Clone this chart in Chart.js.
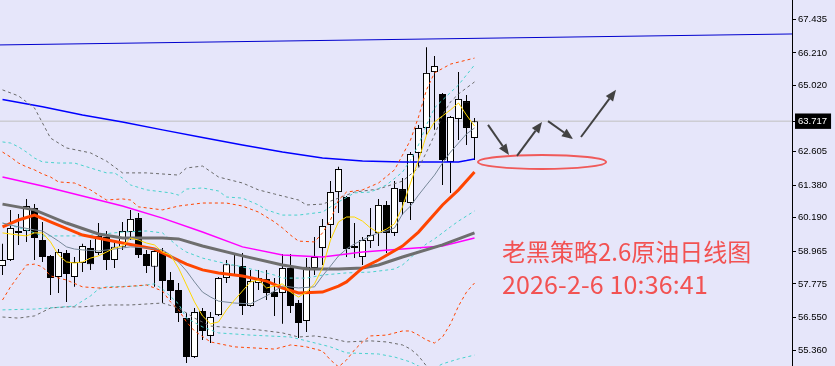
<!DOCTYPE html>
<html><head><meta charset="utf-8">
<script src="https://cdn.jsdelivr.net/npm/chart.js@4.4.1/dist/chart.umd.min.js"></script>
<style>
html,body{margin:0;padding:0;background:#e6e6fa;}
#wrap{position:relative;width:835px;height:366px;overflow:hidden;background:#e6e6fa;}
canvas{display:block;}
.note{position:absolute;left:502px;color:#f25252;font-family:"Noto Sans CJK SC","Noto Sans",sans-serif;font-size:24px;line-height:24px;white-space:nowrap;}
</style></head><body>
<div id="wrap"><canvas id="c" width="835" height="366"></canvas>
<div class="note" style="top:239px">老黑策略2.6原油日线图</div>
<div class="note" style="top:271px;font-size:25px;line-height:25px;letter-spacing:0.15px">2026-2-6 10:36:41</div>
</div>
<script>
// ---- candles (daily crude oil), index 0..59 ----
const OPEN  = [58.43,58.65,59.64,59.71,60.55,59.38,58.80,58.03,58.91,58.03,
               58.54,59.09,58.91,59.49,58.65,59.13,59.67,60.18,58.87,58.40,
               58.94,57.92,57.56,56.53,55.11,56.79,55.88,56.64,57.99,58.45,
               58.43,56.97,57.81,57.96,57.48,57.45,58.36,57.08,56.42,58.36,
               59.09,59.93,61.13,60.95,59.16,58.76,59.34,59.64,60.66,59.64,
               61.24,60.73,62.56,63.47,65.51,64.71,62.23,63.80,64.45,63.10];
const HIGH  = [59.24,60.48,60.33,60.88,60.69,60.04,58.83,59.05,59.02,58.76,
               59.24,59.38,60.00,59.71,59.38,60.04,60.48,60.37,59.02,59.09,
               59.09,58.21,57.81,56.72,56.90,56.90,56.75,58.03,58.65,58.83,
               58.91,58.29,58.29,58.29,57.99,58.87,58.87,57.19,58.72,59.49,
               60.15,61.53,62.05,60.99,60.00,59.49,60.55,60.88,60.80,61.53,
               61.64,62.59,63.58,66.42,66.10,64.75,63.91,65.51,64.67,63.83];
const LOW   = [58.10,58.61,59.20,59.31,58.65,58.58,57.37,57.45,57.12,57.67,
               58.21,58.29,58.83,58.29,58.36,59.02,59.38,58.72,58.18,57.67,
               57.08,57.19,56.39,54.89,55.07,55.73,55.62,56.61,57.81,58.07,
               56.64,56.94,57.56,57.19,56.61,56.32,56.72,55.80,56.02,58.10,
               58.47,59.45,60.37,58.76,58.72,58.47,59.09,59.16,58.91,59.53,
               60.29,60.11,62.05,63.21,63.40,61.39,61.10,63.03,62.85,62.30];
const CLOSE = [58.65,59.82,59.71,60.62,59.45,58.76,57.99,58.94,58.14,58.58,
               59.16,58.50,59.53,58.65,59.13,59.71,60.15,58.83,58.43,58.98,
               57.88,57.52,56.72,55.11,56.75,56.06,56.57,57.99,58.50,58.43,
               56.97,57.88,57.99,57.45,57.30,58.36,56.97,56.35,58.40,58.76,
               59.89,61.13,61.97,59.05,59.09,59.38,59.56,60.66,59.64,61.28,
               60.77,62.52,63.47,65.48,65.73,62.30,63.87,64.53,63.47,63.717];

const CURRENT_PRICE = 63.717;
const Y_TICKS = [67.435,66.210,65.020,63.717,62.605,61.380,60.190,58.965,57.775,56.550,55.360];

// ---- indicator lines: [candle index, price] ----
const MA5_YELLOW = [59.64,59.60,59.56,59.53,59.64,59.64,59.31,58.83,58.58,58.54,
                    58.58,58.72,58.80,58.94,59.09,59.16,59.45,59.38,59.27,59.20,
                    58.94,58.83,58.36,57.74,57.12,56.61,56.32,56.39,56.83,57.19,
                    57.52,57.85,57.92,57.63,57.70,57.78,57.48,57.30,57.48,57.78,
                    58.36,59.38,60.04,60.22,60.22,60.07,59.82,59.64,59.78,59.97,
                    60.59,61.46,62.30,63.21,63.69,63.91,64.13,64.38,63.94,63.54];
const MA10_SLATE = [[0,60.00],[2,59.86],[4,59.75],[5,59.71],[6,59.53],[7,59.34],[8,59.13],[9,59.05],[10,59.02],[12,58.98],[14,59.05],[16,59.13],[18,59.09],[20,59.02],[21,58.83],[22,58.58],[23,58.25],[24,57.85],[25,57.48],[26,57.30],[27,57.15],[29,57.08],[31,57.05],[32,57.19],[33,57.34],[34,57.52],[35,57.70],[37,57.63],[39,57.67],[40,58.07],[41,58.43],[42,58.80],[43,59.05],[44,59.24],[45,59.38],[46,59.53],[47,59.64],[48,59.71],[49,59.82],[50,60.33],[51,60.62],[52,61.02],[53,61.39],[54,61.75],[55,62.19],[56,62.59],[57,62.92],[58,63.25],[59,63.47]];
const MA_ORANGE  = [[0,59.86],[2,60.11],[4,60.29],[6,60.04],[10,59.56],[15,59.27],[19,59.05],[23,58.50],[25,58.29],[27,58.18],[30,58.07],[33,57.88],[35,57.63],[37,57.45],[40,57.48],[42,57.70],[43,57.85],[45,58.36],[47,58.65],[50,59.16],[52,59.67],[55,60.66],[57,61.21],[59,61.86]];
const MA_GRAY    = [[0,60.69],[4,60.48],[8,60.00],[12,59.60],[15,59.45],[20,59.45],[22,59.42],[25,59.16],[30,58.80],[35,58.47],[38,58.32],[42,58.32],[45,58.36],[47,58.47],[50,58.76],[55,59.20],[59,59.64]];
const MA_MAGENTA = [[0,61.68],[5,61.35],[10,60.99],[15,60.62],[20,60.18],[25,59.67],[30,59.13],[35,58.83],[40,58.76],[45,58.94],[50,59.05],[55,59.16],[57,59.31],[59,59.45]];
const MA_BLUE    = [[0,64.51],[5,64.24],[10,63.94],[15,63.69],[20,63.40],[25,63.12],[30,62.85],[35,62.59],[40,62.37],[45,62.26],[50,62.23],[55,62.23],[57,62.23],[58,62.28],[59,62.34]];
const MID_CYAN   = [[0,60.00],[3,59.75],[5,59.53],[10,59.53],[15,59.67],[18,59.71],[20,59.64],[21,59.38],[22,59.13],[23,58.94],[25,58.72],[27,58.58],[30,58.40],[32,58.25],[34,58.10],[35,57.99],[38,57.99],[40,58.10],[43,58.18],[46,58.21],[49,58.32],[50,58.47],[51,58.72],[52,59.02],[53,59.24],[54,59.42],[55,59.64],[56,59.86],[57,60.07],[59,60.44]];
const UP_ORANGE  = [[0,62.59],[1,62.41],[2,62.19],[3,62.05],[4,61.94],[5,61.79],[6,61.68],[7,61.50],[9,61.46],[11,61.21],[12,61.02],[13,60.84],[15,60.88],[16,60.84],[17,60.59],[20,60.48],[22,60.62],[25,60.73],[28,60.73],[30,60.62],[32,60.40],[34,60.04],[35,59.82],[36,59.56],[37,59.34],[39,59.31],[40,59.64],[41,60.11],[42,60.84],[43,61.13],[45,61.21],[47,61.46],[49,61.94],[50,62.48],[51,63.03],[52,63.87],[53,64.86],[54,65.48],[56,65.80],[59,66.02]];
const LO_ORANGE  = [[0,57.19],[1,57.67],[2,58.07],[3,58.47],[4,58.50],[5,58.40],[6,58.07],[8,57.92],[10,57.67],[12,57.63],[15,57.67],[18,57.74],[20,57.52],[21,57.12],[22,56.83],[23,56.39],[24,56.06],[26,55.66],[29,55.48],[34,55.40],[36,55.55],[38,55.48],[40,55.33],[41,55.00],[42,54.75],[43,55.00],[44,55.37],[45,55.66],[46,55.88],[48,55.91],[50,56.06],[51,56.06],[52,55.91],[53,55.73],[54,55.62],[55,55.84],[56,56.32],[57,56.97],[58,57.48],[59,57.81]];
const UP_CYAN    = [[0,62.96],[1,62.92],[2,62.78],[3,62.59],[4,62.37],[5,62.23],[7,62.19],[9,62.19],[11,62.01],[13,61.83],[14,61.83],[15,61.64],[16,61.39],[18,61.21],[21,61.10],[22,61.02],[23,61.24],[25,61.28],[27,61.17],[28,60.95],[30,60.91],[32,60.66],[33,60.48],[35,60.29],[37,60.29],[40,60.40],[41,60.59],[42,60.77],[44,61.10],[46,61.13],[48,61.39],[50,61.86],[51,62.30],[52,62.85],[53,63.58],[54,64.20],[55,64.49],[57,65.04],[59,65.77]];
const LO_CYAN    = [[0,56.83],[4,56.86],[9,56.97],[11,57.34],[12,57.59],[13,57.67],[17,57.70],[19,57.78],[20,57.59],[22,57.05],[23,56.53],[25,56.21],[27,55.99],[31,55.91],[36,55.84],[38,55.70],[41,55.48],[43,55.26],[47,55.22],[49,55.11],[51,54.93],[52,54.78],[53,54.67],[54,54.71],[55,54.86],[57,55.04],[59,55.18]];
const UP_GRAY    = [[0,64.86],[2,64.64],[4,64.20],[5,63.65],[6,63.10],[8,62.74],[11,62.56],[13,62.26],[15,61.83],[18,61.83],[22,61.75],[23,62.01],[25,62.08],[27,61.68],[30,61.46],[32,61.21],[34,61.06],[37,60.84],[38,60.66],[40,60.69],[42,60.91],[44,61.13],[47,61.24],[50,61.53],[52,62.01],[53,62.59],[54,63.21],[55,63.94],[56,64.42],[57,64.71],[58,64.93],[59,65.15]];
const LO_GRAY    = [[0,56.57],[2,56.53],[4,56.61],[6,56.90],[8,56.94],[10,56.94],[13,57.01],[16,57.01],[20,57.08],[22,56.90],[24,56.53],[26,56.24],[29,56.17],[32,56.10],[35,55.99],[37,55.84],[39,55.88],[41,55.80],[43,55.66],[46,55.70],[48,55.66],[50,55.55],[51,55.40],[52,55.15],[53,54.78],[54,54.49]];
const TREND_BLUE = [[-0.3125,66.50],[98.6875,66.90]];

// ---- hand-drawn annotations (index, price) ----
const ARROWS = [[60.69,63.58,63.31,62.48],[64.31,62.45,67.44,63.69],[68.19,63.72,71.31,63.07],[72.31,63.14,76.69,64.86]];
const ELLIPSE = [67.44, 62.23, 8.0, 0.255]; // centre index, centre price, radius in index, radius in price

const X_MIN = -0.3125, X_MAX = 98.6875;
const Y_MIN = 54.782, Y_MAX = 68.14;

const idx = CLOSE.map((_, i) => i);
const wickData = idx.map(i => ({x: i, y: [LOW[i], HIGH[i]]}));
const bodyData = idx.map(i => ({x: i, y: [OPEN[i], CLOSE[i]]}));
const bodyColors = idx.map(i => CLOSE[i] >= OPEN[i] ? '#ffffff' : '#000000');

function line(data, color, width, dash, order) {
  return {type: 'line', data, borderColor: color, borderWidth: width, borderDash: dash || [],
          pointRadius: 0, tension: 0, fill: false, order, spanGaps: true};
}

const overlay = {
  id: 'overlay',
  afterDatasetsDraw(chart) {
    const {ctx, scales: {x, y}} = chart;
    ctx.save();
    const cx = x.getPixelForValue(ELLIPSE[0]), cy = y.getPixelForValue(ELLIPSE[1]);
    const rx = Math.abs(x.getPixelForValue(ELLIPSE[0] + ELLIPSE[2]) - cx);
    const ry = Math.abs(y.getPixelForValue(ELLIPSE[1] + ELLIPSE[3]) - cy);
    ctx.beginPath(); ctx.ellipse(cx, cy, rx, ry, 0, 0, Math.PI * 2);
    ctx.strokeStyle = '#f05a5a'; ctx.lineWidth = 2; ctx.stroke();
    ARROWS.forEach(a => {
      const x0 = x.getPixelForValue(a[0]), y0 = y.getPixelForValue(a[1]);
      const x1 = x.getPixelForValue(a[2]), y1 = y.getPixelForValue(a[3]);
      const ang = Math.atan2(y1 - y0, x1 - x0);
      const head = 11, hw = 4.5;
      const bx = x1 - head * Math.cos(ang), by = y1 - head * Math.sin(ang);
      ctx.strokeStyle = '#424242'; ctx.fillStyle = '#424242'; ctx.lineWidth = 2;
      ctx.beginPath(); ctx.moveTo(x0, y0); ctx.lineTo(bx, by); ctx.stroke();
      ctx.beginPath(); ctx.moveTo(x1, y1);
      ctx.lineTo(bx + hw * Math.sin(ang), by - hw * Math.cos(ang));
      ctx.lineTo(bx - hw * Math.sin(ang), by + hw * Math.cos(ang));
      ctx.closePath(); ctx.fill();
    });
    ctx.restore();
  }
};

new Chart(document.getElementById('c'), {
  type: 'line',
  data: {
    datasets: [
      line([[X_MIN, CURRENT_PRICE], [X_MAX, CURRENT_PRICE]], '#c0c0c0', 1, null, 300),
      {type: 'bar', data: wickData, backgroundColor: '#000', borderWidth: 0, barThickness: 1,
       grouped: false, order: 200, inflateAmount: 0},
      {type: 'bar', data: bodyData, backgroundColor: bodyColors, borderColor: '#000', borderWidth: 1,
       borderSkipped: false, barThickness: 7, grouped: false, order: 190, inflateAmount: 0},
      line(TREND_BLUE, '#0000cd', 1, null, 20),
      line(MA_BLUE, '#0000ff', 1.5, null, 19),
      line(UP_GRAY, '#696969', 1, [3, 3], 18),
      line(LO_GRAY, '#696969', 1, [3, 3], 18),
      line(UP_CYAN, '#48d1cc', 1, [3, 3], 17),
      line(LO_CYAN, '#48d1cc', 1, [3, 3], 17),
      line(MID_CYAN, '#48d1cc', 1, [3, 3], 17),
      line(UP_ORANGE, '#ff4500', 1, [3, 3], 16),
      line(LO_ORANGE, '#ff4500', 1, [3, 3], 16),
      line(MA_MAGENTA, '#ff00ff', 1.5, null, 15),
      line(MA_GRAY, '#6e6e6e', 3, null, 14),
      line(MA_ORANGE, '#ff4500', 3, null, 13),
      line(MA10_SLATE, '#778899', 1, null, 12),
      line(MA5_YELLOW.map((v, i) => [i, v]), '#ffd700', 1, null, 11)
    ]
  },
  options: {
    responsive: false, animation: false, devicePixelRatio: 1,
    layout: {padding: 0, autoPadding: false},
    plugins: {legend: {display: false}, tooltip: {enabled: false}},
    scales: {
      x: {type: 'linear', min: X_MIN, max: X_MAX, display: false, offset: false},
      y: {
        position: 'right', min: Y_MIN, max: Y_MAX, offset: false, beginAtZero: false,
        afterBuildTicks: s => { s.ticks = Y_TICKS.map(v => ({value: v})); },
        afterFit: s => { s.width = 43; s.paddingTop = 0; s.paddingBottom = 0; },
        grid: {drawOnChartArea: false, drawTicks: true, tickLength: 4, color: '#000'},
        border: {display: true, color: '#000', width: 1},
        ticks: {
          autoSkip: false, padding: 2,
          font: {family: 'Liberation Sans', size: 9.5},
          color: c => (c.tick && c.tick.value === CURRENT_PRICE) ? '#ffffff' : '#000000',
          showLabelBackdrop: c => !!(c.tick && c.tick.value === CURRENT_PRICE),
          backdropColor: '#000000',
          backdropPadding: {top: 2, bottom: 2, left: 3, right: 4},
          callback: v => Number(v).toFixed(3)
        }
      }
    }
  },
  plugins: [overlay]
});
</script>
</body></html>
